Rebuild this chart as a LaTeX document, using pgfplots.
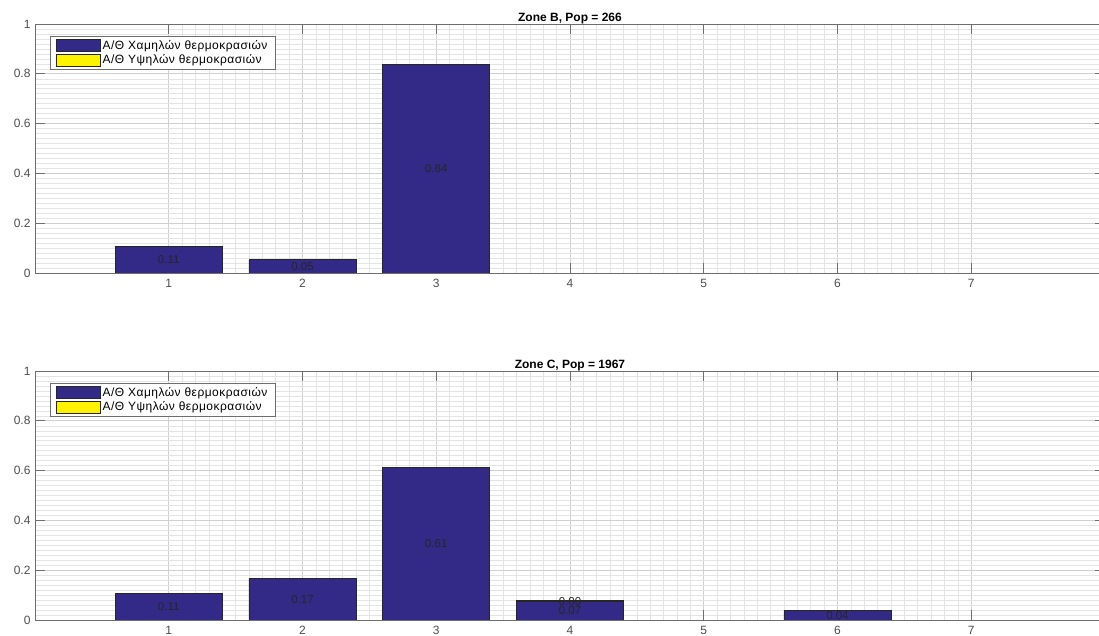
\documentclass[border=0pt]{standalone}
\usepackage{pgfplots}
\pgfplotsset{compat=1.18}
\usepackage{fontspec}
\setmainfont{Liberation Sans}
\newfontfamily\legfont[LetterSpace=4]{Liberation Sans}
\definecolor{barblue}{RGB}{51,41,135}
\definecolor{axgray}{RGB}{110,110,110}
\definecolor{ticklab}{RGB}{77,77,77}
\definecolor{majgrid}{RGB}{208,208,208}
\definecolor{mingrid}{RGB}{228,228,228}
\pgfplotsset{
  zonestyle/.style={
    scale only axis, width=1070pt, height=249pt,
    xmin=0, xmax=8, ymin=0, ymax=1,
    ybar stacked, bar width=0.8,
    xtick={1,...,7}, ytick={0,0.2,0.4,0.6,0.8,1},
    yticklabels={0,0.2,0.4,0.6,0.8,1},
    minor x tick num=9, minor y tick num=9,
    grid=both,
    major grid style={majgrid, line width=0.6pt},
    minor grid style={mingrid, line width=0.5pt},
    tick align=inside, major tick length=10pt, minor tick length=0pt,
    axis line style={axgray, line width=0.9pt},
    every tick/.style={axgray, line width=0.9pt},
    tick label style={font=\fontsize{12}{13}\selectfont, text=ticklab},
    xticklabel style={yshift=-3pt},
    yticklabel style={xshift=-1pt},
    /pgf/number format/assume math mode=true,
    title style={font=\bfseries\fontsize{12}{13}\selectfont, yshift=-10pt},
    legend style={at={(0.014,0.952)}, anchor=north west,
      font=\legfont\fontsize{12}{13}\selectfont, draw=axgray, line width=0.8pt,
      inner xsep=6pt, inner ysep=2.5pt, row sep=1pt,
      nodes={inner sep=1.5pt}},
    legend cell align=left,
    legend image code/.code={\draw[#1, line width=0.8pt] (0pt,-6pt) rectangle (44pt,6pt);},
    disabledatascaling,
    visualization depends on={rawy \as \rawy},
    nodes near coords={\ifdim\rawy pt>0.001pt\pgfmathprintnumber[fixed,fixed zerofill,precision=2]{\rawy}\fi},
    every node near coord/.append style={anchor=center,
      font=\fontsize{11.5}{12}\selectfont, text=black!85},
  }
}
\begin{document}
\begin{tikzpicture}
\useasboundingbox (0,0) rectangle (1099pt,636pt);
\begin{axis}[zonestyle, at={(35pt,363pt)}, anchor=south west,
  title={Zone B, Pop = 266}]
\addplot[fill=barblue, draw=black!85, line width=0.6pt] coordinates {(1,0.107) (2,0.053) (3,0.839) (4,0) (5,0) (6,0) (7,0)};
\addplot[fill=yellow, draw=black!85, line width=0.6pt] coordinates {(1,0) (2,0) (3,0) (4,0) (5,0) (6,0) (7,0)};
\legend{Α/Θ Χαμηλών θερμοκρασιών, Α/Θ Υψηλών θερμοκρασιών}
\end{axis}
\begin{axis}[zonestyle, at={(35pt,16pt)}, anchor=south west,
  title={Zone C, Pop = 1967}]
\addplot[fill=barblue, draw=black!85, line width=0.6pt] coordinates {(1,0.108) (2,0.166) (3,0.614) (4,0.074) (5,0) (6,0.037) (7,0)};
\addplot[fill=yellow, draw=black!85, line width=0.6pt] coordinates {(1,0) (2,0) (3,0) (4,0.004) (5,0) (6,0) (7,0)};
\legend{Α/Θ Χαμηλών θερμοκρασιών, Α/Θ Υψηλών θερμοκρασιών}
\end{axis}
\end{tikzpicture}
\end{document}
